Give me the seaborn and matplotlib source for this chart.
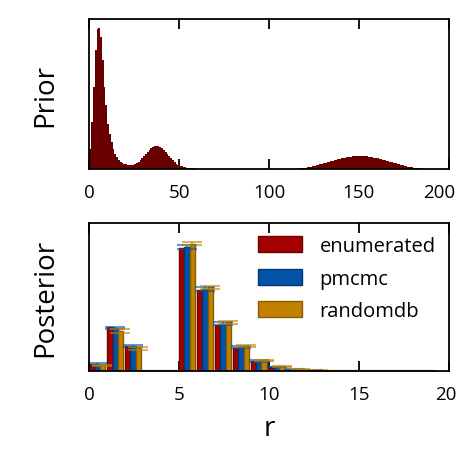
import numpy as np
import pandas as pd
import seaborn as sns
import matplotlib
matplotlib.use("Agg")
import matplotlib.pyplot as plt
from matplotlib.transforms import ScaledTranslation

# prior over r = 0..199 (relative heights)
prior = [
    20, 47, 82, 119, 140, 141, 132, 109, 82, 64,
    45, 35, 27, 20, 15, 12, 9, 7, 6, 5,
    5, 4, 4, 4, 4, 5, 6, 7, 9, 11,
    13, 15, 17, 19, 21, 22, 23, 23, 23, 22,
    21, 19, 17, 15, 13, 11, 9, 7, 5.5, 4.5,
    3.5, 3, 2.5, 2, 1.5, 1.2, 1, 0.8, 0.6, 0.5,
    0.4, 0.3, 0.3, 0.2, 0.2, 0.2, 0.1, 0.1, 0.1, 0.1,
    0.05, 0.05, 0.05, 0, 0, 0, 0, 0, 0, 0,
    0, 0, 0, 0, 0, 0, 0, 0, 0, 0,
    0, 0, 0, 0, 0, 0, 0, 0, 0, 0,
    0, 0, 0, 0, 0, 0, 0, 0, 0.1, 0.1,
    0.1, 0.2, 0.2, 0.3, 0.4, 0.5, 0.6, 0.8, 1.0, 1.2,
    1.4, 1.7, 2.0, 2.4, 2.8, 3.2, 3.6, 4.1, 4.6, 5.1,
    5.6, 6.1, 6.7, 7.2, 7.8, 8.3, 8.8, 9.3, 9.8, 10.3,
    10.7, 11.1, 11.5, 11.8, 12.1, 12.4, 12.6, 12.8, 12.9, 13.0,
    13.0, 13.0, 12.9, 12.8, 12.6, 12.4, 12.1, 11.8, 11.5, 11.1,
    10.7, 10.3, 9.8, 9.3, 8.8, 8.3, 7.8, 7.2, 6.7, 6.1,
    5.6, 5.1, 4.6, 4.1, 3.6, 3.2, 2.8, 2.4, 2.0, 1.7,
    1.4, 1.2, 1.0, 0.8, 0.6, 0.5, 0.4, 0.3, 0.2, 0.2,
    0.1, 0.1, 0.1, 0, 0, 0, 0, 0, 0, 0,
]
prior_r = list(range(len(prior)))

# posterior over r = 0..18
post_r = list(range(19))
enumerated = [0.019, 0.120, 0.069, 0, 0, 0.336, 0.222, 0.127, 0.063, 0.027,
              0.011, 0.004, 0.0015, 0.0005, 0.0002, 0, 0, 0, 0]
pmcmc = [0.019, 0.118, 0.068, 0, 0, 0.339, 0.225, 0.130, 0.065, 0.027,
         0.011, 0.004, 0.0015, 0.0005, 0.0002, 0, 0, 0, 0]
randomdb = [0.016, 0.110, 0.062, 0, 0, 0.348, 0.229, 0.133, 0.068, 0.029,
            0.013, 0.005, 0.0017, 0.0006, 0.0002, 0, 0, 0, 0]
pmcmc_err = [0.002, 0.004, 0.003, 0, 0, 0.006, 0.005, 0.004, 0.003, 0.002,
             0.001, 0.0007, 0.0004, 0.0002, 0.0001, 0, 0, 0, 0]
randomdb_err = [0.002, 0.005, 0.003, 0, 0, 0.004, 0.004, 0.004, 0.003, 0.002,
                0.001, 0.0008, 0.0004, 0.0002, 0.0001, 0, 0, 0, 0]

methods = ["enumerated", "pmcmc", "randomdb"]
fills = ["#a50000", "#0053a6", "#c08000"]
edges = ["#6e0000", "#003873", "#8a5c00"]

sns.set_style("white")
plt.rcParams["font.family"] = ["Open Sans", "DejaVu Sans"]
plt.rcParams["text.color"] = "black"
plt.rcParams["axes.labelcolor"] = "black"
plt.rcParams["xtick.color"] = "black"

fig = plt.figure(figsize=(4.59, 4.56), dpi=100)
ax1 = fig.add_axes([0.1946, 0.627, 0.783, 0.329])
ax2 = fig.add_axes([0.1946, 0.184, 0.783, 0.3246])

# Prior: one unit-wide bar per r, left edge at r
prior_df = pd.DataFrame({"r": np.array(prior_r) + 0.5, "w": prior})
sns.barplot(data=prior_df, x="r", y="w", native_scale=True, width=1.0,
            color="#690000", saturation=1, errorbar=None, linewidth=0, ax=ax1)
for p in ax1.patches:
    p.set_antialiased(False)
ax1.set_xlim(0, 200)
ax1.set_ylim(0, max(prior) * 150 / 141)
ax1.set_xticks([0, 50, 100, 150, 200])
ax1.set_xlabel("")
ax1.set_ylabel("Prior", fontsize=20)

# Posterior
df = pd.DataFrame({
    "r": np.tile(np.array(post_r) + 0.435, 3),
    "p": enumerated + pmcmc + randomdb,
    "method": np.repeat(methods, len(post_r)),
})
sns.barplot(data=df, x="r", y="p", hue="method", hue_order=methods,
            palette=fills, native_scale=True, width=0.87, errorbar=None,
            saturation=1, ax=ax2, linewidth=1)

errs = [None, pmcmc_err, randomdb_err]
for cont, fc, ec, err in zip(ax2.containers, fills, edges, errs):
    for bar in cont:
        bar.set_edgecolor(ec)
    if err is None:
        continue
    xs = [b.get_x() + b.get_width() / 2 for b in cont]
    hs = [b.get_height() for b in cont]
    ax2.errorbar(xs, hs, yerr=err, fmt="none", ecolor=fc, alpha=0.6,
                 elinewidth=1.5, capsize=7, capthick=1.5)

ax2.set_xlim(0, 20)
ax2.set_ylim(0, 0.405)
ax2.set_xticks([0, 5, 10, 15, 20])
ax2.set_ylabel("Posterior", fontsize=20)
ax2.set_xlabel("r", fontsize=20, labelpad=8)

leg = ax2.legend(loc="upper right", frameon=False, fontsize=14.5,
                 handlelength=2.2, handleheight=0.85, labelspacing=0.62,
                 handletextpad=0.85, borderaxespad=0.25)
for h, ec in zip(leg.legend_handles, edges):
    h.set_edgecolor(ec)

# last tick labels sit a little inward of their ticks, as in the original
shifts = {ax1: -10, ax2: -3}
for ax in (ax1, ax2):
    ax.set_yticks([])
    ax.tick_params(axis="x", direction="in", top=True, bottom=True,
                   length=7, width=1.3, labelsize=13.5, pad=10, color="black")
    for s in ax.spines.values():
        s.set_visible(True)
        s.set_color("black")
        s.set_linewidth(1.3)
    ax.yaxis.set_label_coords(-0.085, 0.5)
    last = ax.get_xticklabels()[-1]
    last.set_transform(last.get_transform()
                       + ScaledTranslation(shifts[ax] / 100, 0, fig.dpi_scale_trans))

fig.savefig("out.png", dpi=100)
